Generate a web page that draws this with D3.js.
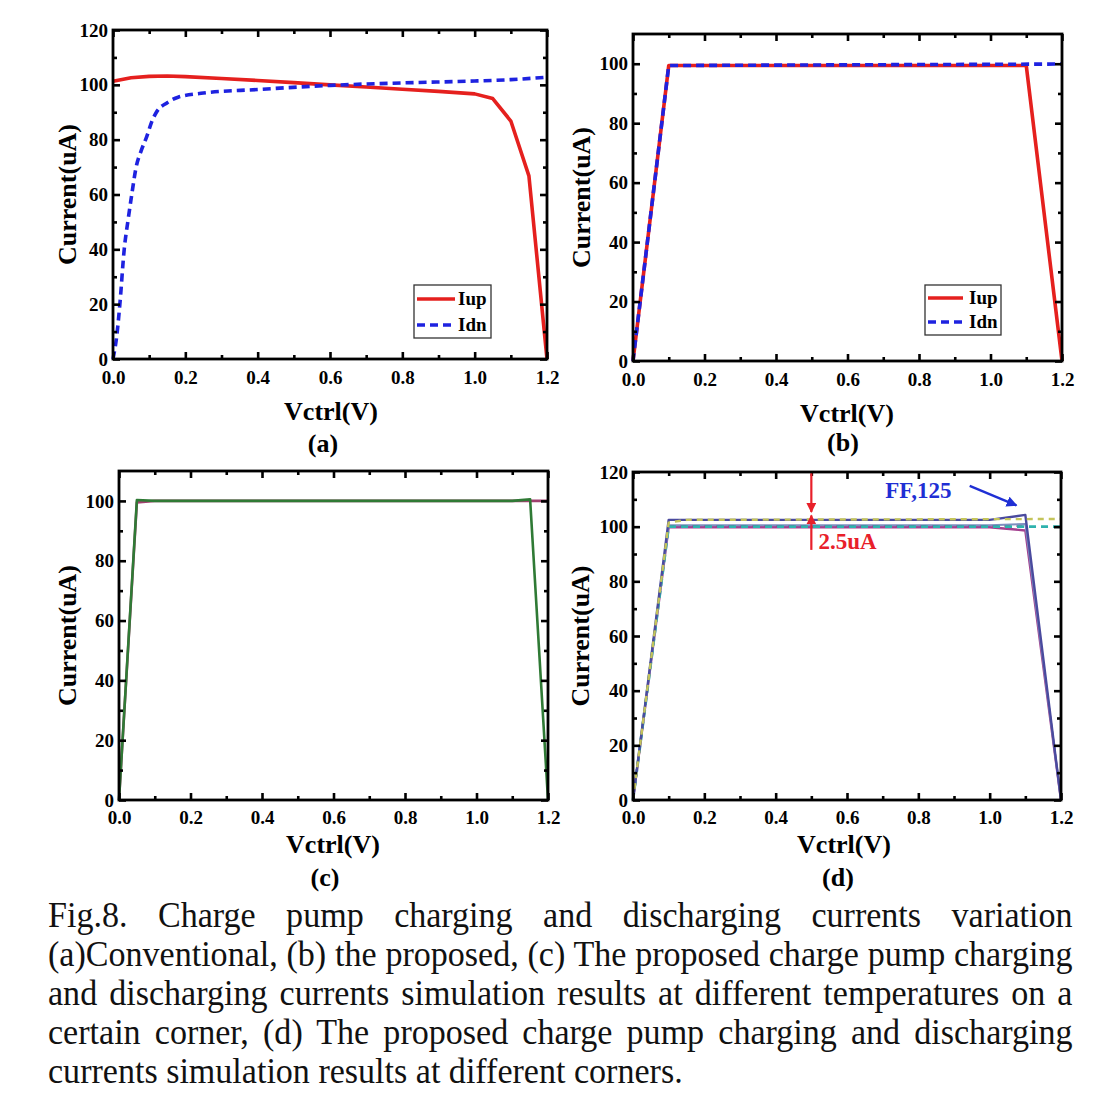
<!DOCTYPE html>
<html><head><meta charset="utf-8">
<script src="https://cdn.jsdelivr.net/npm/d3@7"></script>
<style>body{margin:0;background:#fff} svg{display:block}</style>
</head><body>
<svg id="fig" width="1107" height="1097"></svg>
<script>
// ---------------- DATA ----------------
const xTickValues = [0, 0.2, 0.4, 0.6, 0.8, 1.0, 1.2];
const xTickLabels = ["0.0", "0.2", "0.4", "0.6", "0.8", "1.0", "1.2"];
const xMinorValues = [0.1, 0.3, 0.5, 0.7, 0.9, 1.1];
const yTicks120 = [0, 20, 40, 60, 80, 100, 120];
const yTicks100 = [0, 20, 40, 60, 80, 100];
const xTitle = "Vctrl(V)";
const yTitle = "Current(uA)";
const panelLabels = ["(a)", "(b)", "(c)", "(d)"];
const legendNames = ["Iup", "Idn"];

// (a) conventional
const aIupV = [0, 0.05, 0.1, 0.15, 0.2, 0.3, 0.4, 0.5, 0.6, 0.7, 0.8, 0.9, 1.0, 1.05, 1.1, 1.15, 1.2];
const aIupI = [101.3, 102.6, 103.1, 103.2, 103.0, 102.3, 101.6, 100.8, 100.0, 99.2, 98.4, 97.6, 96.7, 95.0, 86.8, 66.8, 0];
const aIdnV = [0, 0.01, 0.019, 0.031, 0.042, 0.053, 0.064, 0.078, 0.093, 0.107, 0.12, 0.15, 0.18, 0.25, 0.4, 0.6, 0.8, 1.0, 1.1, 1.2];
const aIdnI = [0, 8, 20, 40, 51, 61, 70, 76, 81, 86.5, 90, 93.5, 95.5, 97, 98.3, 99.8, 100.7, 101.4, 101.9, 102.8];

// (b) proposed
const bIupV = [0, 0.1, 1.1, 1.2];
const bIupI = [0, 99.4, 99.4, 0];
const bIdnV = [0, 0.1, 1.2];
const bIdnI = [0, 99.4, 99.9];

// (c) temperatures
const cIdnV = [0, 0.05, 0.1, 1.2];
const cIdnI = [0, 99.5, 100, 100];
const cIupV = [0, 0.05, 0.1, 1.1, 1.15, 1.2];
const cIupI = [0, 100.3, 100, 100, 100.5, 0];

// (d) corners
const dFFupV = [0, 0.1, 1.0, 1.1, 1.2];
const dFFupI = [0, 102.5, 102.5, 104.3, 0];
const dFFdnV = [0, 0.1, 0.15, 1.2];
const dFFdnI = [0, 101.5, 102.5, 102.8];
const dSSupV = [0, 0.1, 1.0, 1.1, 1.2];
const dSSupI = [0, 99.8, 99.8, 98.6, 0];
const dSSdnV = [0, 0.1, 1.2];
const dSSdnI = [0, 100, 100];
const dTTupV = [0, 0.1, 1.0, 1.1, 1.2];
const dTTupI = [0, 100.5, 100.5, 101.0, 0];
const dTTdnV = [0, 0.1, 1.1];
const dTTdnI = [0, 100.2, 100.2];

const annoDelta = "2.5uA";
const annoCorner = "FF,125";

const captionLines = [
  "Fig.8. Charge pump charging and discharging currents variation",
  "(a)Conventional, (b) the proposed, (c) The proposed charge pump charging",
  "and discharging currents simulation results at different temperatures on a",
  "certain corner, (d) The proposed charge pump charging and discharging",
  "currents simulation results at different corners."
];

// ---------------- DRAWING ----------------
const svg = d3.select("#fig");
const SERIF = "'Liberation Serif','Times New Roman',Times,serif";
const pts = (xs, ys) => xs.map((v, i) => [v, ys[i]]);

function panel(cfg) {
  const g = svg.append("g");
  const x = d3.scaleLinear().domain([0, 1.2]).range([cfg.x0, cfg.x1]);
  const y = d3.scaleLinear().domain([0, cfg.ymax]).range([cfg.y1, cfg.y0]);
  const yMinor = d3.range(10, cfg.ymax, 20);

  cfg.series.forEach(s => {
    const line = d3.line().x(d => x(d[0])).y(d => y(d[1])).curve(s.curve || d3.curveLinear);
    g.append("path").attr("d", line(pts(s.v, s.i)))
      .attr("fill", "none").attr("stroke", s.color).attr("stroke-width", s.w)
      .attr("stroke-dasharray", s.dash || null).attr("stroke-linejoin", "round");
  });

  const styleAxis = sel => {
    sel.select(".domain").remove();
    sel.selectAll(".tick line").attr("stroke", "#000").attr("stroke-width", 2.6);
    sel.selectAll(".tick text").attr("font-family", SERIF).attr("font-weight", "bold")
      .attr("font-size", 19).attr("fill", "#000");
  };
  const fmt = d => xTickLabels[xTickValues.findIndex(t => Math.abs(t - d) < 1e-9)];
  g.append("g").attr("transform", `translate(0,${cfg.y1})`)
    .call(d3.axisBottom(x).tickValues(xTickValues).tickFormat(fmt).tickSizeInner(-7).tickSizeOuter(0).tickPadding(cfg.xpad || 12)).call(styleAxis);
  g.append("g").attr("transform", `translate(0,${cfg.y1})`)
    .call(d3.axisBottom(x).tickValues(xMinorValues).tickFormat("").tickSizeInner(-4).tickSizeOuter(0)).call(styleAxis);
  g.append("g").attr("transform", `translate(0,${cfg.y0})`)
    .call(d3.axisTop(x).tickValues(xTickValues).tickFormat("").tickSizeInner(-7).tickSizeOuter(0)).call(styleAxis);
  g.append("g").attr("transform", `translate(0,${cfg.y0})`)
    .call(d3.axisTop(x).tickValues(xMinorValues).tickFormat("").tickSizeInner(-4).tickSizeOuter(0)).call(styleAxis);
  g.append("g").attr("transform", `translate(${cfg.x0},0)`)
    .call(d3.axisLeft(y).tickValues(cfg.yTicks).tickFormat(d3.format("d")).tickSizeInner(-7).tickSizeOuter(0).tickPadding(5)).call(styleAxis);
  g.append("g").attr("transform", `translate(${cfg.x0},0)`)
    .call(d3.axisLeft(y).tickValues(yMinor).tickFormat("").tickSizeInner(-4).tickSizeOuter(0)).call(styleAxis);
  g.append("g").attr("transform", `translate(${cfg.x1},0)`)
    .call(d3.axisRight(y).tickValues(cfg.yTicks).tickFormat("").tickSizeInner(-7).tickSizeOuter(0)).call(styleAxis);
  g.append("g").attr("transform", `translate(${cfg.x1},0)`)
    .call(d3.axisRight(y).tickValues(yMinor).tickFormat("").tickSizeInner(-4).tickSizeOuter(0)).call(styleAxis);

  g.append("rect").attr("x", cfg.x0).attr("y", cfg.y0)
    .attr("width", cfg.x1 - cfg.x0).attr("height", cfg.y1 - cfg.y0)
    .attr("fill", "none").attr("stroke", "#000").attr("stroke-width", 2.8);

  g.append("text").attr("transform", `translate(${cfg.ytx},${(cfg.y0 + cfg.y1) / 2}) rotate(-90)`)
    .attr("text-anchor", "middle").attr("dy", "0.35em")
    .attr("font-family", SERIF).attr("font-weight", "bold").attr("font-size", 26).text(yTitle);
  g.append("text").attr("x", cfg.xtx).attr("y", cfg.xty).attr("text-anchor", "middle")
    .attr("font-family", SERIF).attr("font-weight", "bold").attr("font-size", 26).text(xTitle);
  g.append("text").attr("x", cfg.ltx).attr("y", cfg.lty).attr("text-anchor", "middle")
    .attr("font-family", SERIF).attr("font-weight", "bold").attr("font-size", 26).text(cfg.label);

  if (cfg.legend) {
    const L = cfg.legend;
    g.append("rect").attr("x", L.x).attr("y", L.y).attr("width", L.w).attr("height", L.h)
      .attr("fill", "#fff").attr("stroke", "#333").attr("stroke-width", 1.3);
    L.items.forEach((it, k) => {
      const yy = L.y + L.row0 + k * L.dy;
      g.append("line").attr("x1", L.x + 3).attr("x2", L.x + L.lineLen).attr("y1", yy).attr("y2", yy)
        .attr("stroke", it.color).attr("stroke-width", it.w).attr("stroke-dasharray", it.dash || null);
      g.append("text").attr("x", L.x + L.textX).attr("y", yy).attr("dy", "0.33em")
        .attr("font-family", SERIF).attr("font-weight", "bold").attr("font-size", 19).text(it.name);
    });
  }
  return {g, x, y};
}

const RED = "#e5201e", BLUE = "#1e22e0";

panel({
  x0: 113, x1: 547, y0: 30, y1: 359, ymax: 120, yTicks: yTicks120,
  ytx: 67, xtx: 331, xty: 420, ltx: 323, lty: 452, label: panelLabels[0],
  series: [
    {v: aIupV, i: aIupI, color: RED, w: 3.6},
    {v: aIdnV, i: aIdnI, color: BLUE, w: 3.6, dash: "8,5", curve: d3.curveMonotoneX}
  ],
  legend: {x: 414, y: 285, w: 77, h: 53, row0: 14, dy: 26, lineLen: 41, textX: 44,
    items: [{name: legendNames[0], color: RED, w: 3.6}, {name: legendNames[1], color: BLUE, w: 3.6, dash: "8,5"}]}
});

panel({
  x0: 633, x1: 1062, y0: 34, y1: 361, ymax: 110, yTicks: yTicks100,
  ytx: 581, xtx: 847, xty: 422, ltx: 843, lty: 451, label: panelLabels[1],
  series: [
    {v: bIupV, i: bIupI, color: RED, w: 3.6},
    {v: bIdnV, i: bIdnI, color: BLUE, w: 3.6, dash: "8,5"}
  ],
  legend: {x: 925, y: 285, w: 76, h: 50, row0: 13, dy: 24, lineLen: 38, textX: 44,
    items: [{name: legendNames[0], color: RED, w: 3.6}, {name: legendNames[1], color: BLUE, w: 3.6, dash: "8,5"}]}
});

panel({
  x0: 119, x1: 548, y0: 471, y1: 800, ymax: 110, yTicks: yTicks100, xpad: 11,
  ytx: 67, xtx: 333, xty: 853, ltx: 325, lty: 886, label: panelLabels[2],
  series: [
    {v: cIdnV, i: cIdnI, color: "#a0406e", w: 2.6},
    {v: cIupV, i: cIupI, color: "#2f7a35", w: 2.6}
  ]
});

const pd = panel({
  x0: 633, x1: 1061, y0: 472, y1: 800, ymax: 120, yTicks: yTicks120, xpad: 11,
  ytx: 580, xtx: 844, xty: 853, ltx: 838, lty: 886, label: panelLabels[3],
  series: [
    {v: dSSupV, i: dSSupI, color: "#a3408f", w: 2.4},
    {v: dTTupV, i: dTTupI, color: "#7f8fc0", w: 2.0},
    {v: dTTdnV, i: dTTdnI, color: "#8a3d8f", w: 1.8, dash: "6,6"},
    {v: dSSdnV, i: dSSdnI, color: "#2fb2ad", w: 2.8, dash: "7,5"},
    {v: dFFupV, i: dFFupI, color: "#4a4a9e", w: 2.4},
    {v: dFFdnV, i: dFFdnI, color: "#c4c45a", w: 2.4, dash: "6,5"}
  ]
});

// annotations in (d)
const defs = svg.append("defs");
function marker(id, color) {
  defs.append("marker").attr("id", id).attr("viewBox", "0 0 10 10").attr("refX", 9).attr("refY", 5)
    .attr("markerWidth", 4.5).attr("markerHeight", 4.5).attr("orient", "auto")
    .attr("markerUnits", "strokeWidth")
    .append("path").attr("d", "M0,0 L10,5 L0,10 Z").attr("fill", color);
}
const ARED = "#e8202a", ABLUE = "#1f2fd4";
marker("mr", ARED); marker("mb", ABLUE);
const X = pd.x, Y = pd.y;
pd.g.append("line").attr("x1", X(0.5)).attr("y1", Y(119.5)).attr("x2", X(0.5)).attr("y2", Y(105.4))
  .attr("stroke", ARED).attr("stroke-width", 2.2).attr("marker-end", "url(#mr)");
pd.g.append("line").attr("x1", X(0.5)).attr("y1", Y(91.5)).attr("x2", X(0.5)).attr("y2", Y(104.1))
  .attr("stroke", ARED).attr("stroke-width", 2.2).attr("marker-end", "url(#mr)");
pd.g.append("text").attr("x", X(0.52)).attr("y", Y(92.0)).attr("fill", ARED)
  .attr("font-family", SERIF).attr("font-weight", "bold").attr("font-size", 23).text(annoDelta);
pd.g.append("text").attr("x", X(0.707)).attr("y", Y(110.6)).attr("fill", ABLUE)
  .attr("font-family", SERIF).attr("font-weight", "bold").attr("font-size", 23).text(annoCorner);
pd.g.append("line").attr("x1", X(0.944)).attr("y1", Y(114.9)).attr("x2", X(1.075)).attr("y2", Y(107.8))
  .attr("stroke", ABLUE).attr("stroke-width", 2.4).attr("marker-end", "url(#mb)");

// caption
const capLeft = 48, capRight = 1073, capY0 = 927, capDy = 38.9, lastLineEnd = 683;
const cap = svg.append("g");
const texts = captionLines.map(t => cap.append("text").attr("font-family", SERIF)
  .attr("font-size", 35).attr("fill", "#111").attr("xml:space", "preserve").text(t));
const wLast = texts[texts.length - 1].node().getComputedTextLength();
const sx = (lastLineEnd - capLeft) / wLast;
texts.forEach((t, i) => {
  const w = t.node().getComputedTextLength();
  t.attr("transform", `translate(${capLeft},${capY0 + i * capDy}) scale(${sx},1)`);
  if (i < texts.length - 1) {
    const n = (captionLines[i].match(/ /g) || []).length;
    t.attr("word-spacing", ((capRight - capLeft) / sx - w) / n);
  }
});
</script>
</body></html>
